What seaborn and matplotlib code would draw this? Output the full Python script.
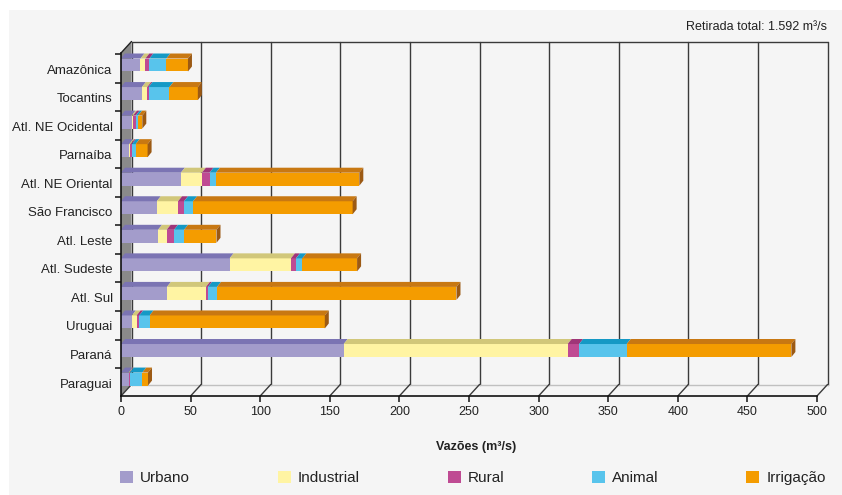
import matplotlib
matplotlib.use("Agg")
import matplotlib.pyplot as plt
from matplotlib.patches import Polygon, Rectangle, Patch
from matplotlib.transforms import ScaledTranslation
import numpy as np
import pandas as pd
import seaborn as sns

# ---- data: withdrawal flow by hydrographic region (m³/s) ----
regioes = ["Amazônica", "Tocantins", "Atl. NE Ocidental", "Parnaíba",
           "Atl. NE Oriental", "São Francisco", "Atl. Leste", "Atl. Sudeste",
           "Atl. Sul", "Uruguai", "Paraná", "Paraguai"]
urbano     = [14.0, 15.0, 7.6, 5.8, 43.0, 25.7, 26.6, 78.0, 33.0, 7.8, 160.0, 5.5]
industrial = [3.5, 3.8, 1.0, 1.0, 15.1, 15.3, 6.2, 44.1, 28.0, 3.4, 160.9, 0.5]
rural      = [2.9, 1.0, 2.0, 1.0, 5.5, 4.3, 5.3, 3.6, 1.5, 1.9, 8.2, 0.3]
animal     = [12.2, 15.0, 1.7, 2.7, 4.6, 6.5, 7.2, 4.6, 6.5, 7.4, 34.2, 9.0]
irrigacao  = [15.5, 20.4, 3.0, 8.6, 103.0, 114.6, 23.3, 39.3, 172.0, 125.9, 118.3, 4.1]

usos = ["Urbano", "Industrial", "Rural", "Animal", "Irrigação"]
x_ticks = [0, 50, 100, 150, 200, 250, 300, 350, 400, 450, 500]
titulo = "Retirada total: 1.592 m³/s"
eixo_x = "Vazões (m³/s)"

# ---- styling ----
cor_frente = ["#a39ccb", "#fff4a3", "#bf4b93", "#58c4ec", "#f49c00"]
cor_topo   = ["#7b74b3", "#d1c77a", "#9f3578", "#1599c5", "#c87812"]
cor_lado   = "#9c5a14"
BG = "#f5f5f5"
TXT = "#222222"

sns.set_theme(style="white")
plt.rcParams["font.family"] = ["Liberation Sans", "DejaVu Sans"]

W, H = 842, 495
fig = plt.figure(figsize=(W / 100, H / 100), dpi=100, facecolor="white")
fig.add_artist(Rectangle((9 / W, 0), 1 - 9 / W, 1 - 10 / H,
                         transform=fig.transFigure, facecolor=BG,
                         edgecolor="none", zorder=0))

# front plane of the pseudo-3D box (pixels)
px_left, px_right = 121, 817
px_top, px_bot = 53, 396
row_px = 28.55          # pixel distance between rows
first_row_px = 65       # pixel centre of the first bar
ax = fig.add_axes([px_left / W, 1 - px_bot / H,
                   (px_right - px_left) / W, (px_bot - px_top) / H])
ax.set_facecolor(BG)

BAR_H = 0.455
df = pd.DataFrame({"Região": regioes, "Urbano": urbano, "Industrial": industrial,
                   "Rural": rural, "Animal": animal, "Irrigação": irrigacao})
acum = df[usos].cumsum(axis=1)

# stacked bars: draw cumulative totals from the longest down
for uso, cor in reversed(list(zip(usos, cor_frente))):
    sns.barplot(x=acum[uso], y=df["Região"], orient="h", color=cor,
                saturation=1, width=BAR_H, linewidth=0, errorbar=None,
                ax=ax, zorder=4)

xmax = 500
y_bot = (px_bot - first_row_px) / row_px
y_top = (px_top - first_row_px) / row_px
ax.set_xlim(0, xmax)
ax.set_ylim(y_bot, y_top)

px_x = (px_right - px_left) / xmax
# bar depth (top face / end cap)
bdx, bdy = 4.0 / px_x, 5.0 / row_px
# box depth
dx, dy = 10.5 / px_x, 11.5 / row_px

# top faces and end caps of the bars
for i in range(len(regioes)):
    t = i - BAR_H / 2
    left = 0.0
    for k, uso in enumerate(usos):
        right = acum.loc[i, uso]
        ax.add_patch(Polygon([(left, t), (right, t), (right + bdx, t - bdy),
                              (left + bdx, t - bdy)], closed=True,
                             facecolor=cor_topo[k], edgecolor="none",
                             zorder=5, clip_on=False))
        left = right
    ax.add_patch(Polygon([(left, t), (left + bdx, t - bdy),
                          (left + bdx, t + BAR_H - bdy), (left, t + BAR_H)],
                         closed=True, facecolor=cor_lado, edgecolor="none",
                         zorder=5, clip_on=False))

# left wall
ax.add_patch(Polygon([(0, y_bot), (0, y_top), (dx, y_top - dy), (dx, y_bot - dy)],
                     closed=True, facecolor="#8a8a8a", edgecolor="none",
                     zorder=2, clip_on=False))
# back wall grid and edges
grid_kw = dict(color="#3a3a3a", lw=1.0, clip_on=False, zorder=1)
for v in x_ticks:
    ax.plot([v + dx, v + dx], [y_bot - dy, y_top - dy], **grid_kw)
    ax.plot([v, v + dx], [y_bot, y_bot - dy], color="#3a3a3a", lw=1.0,
            clip_on=False, zorder=3)
ax.plot([dx, xmax + dx], [y_top - dy, y_top - dy], **grid_kw)
ax.plot([dx, xmax + dx], [y_bot - dy, y_bot - dy], color="#c0c0c0", lw=1.0,
        clip_on=False, zorder=1)
ax.plot([0, dx], [y_top, y_top - dy], color="#222222", lw=1.0,
        clip_on=False, zorder=3)

# spines / ticks
for s in ["top", "right"]:
    ax.spines[s].set_visible(False)
for s in ["left", "bottom"]:
    ax.spines[s].set_color("#111111")
    ax.spines[s].set_linewidth(1.2)
    ax.spines[s].set_zorder(6)

ax.set_xticks(x_ticks)
ax.set_xticklabels([str(v) for v in x_ticks])
ax.set_yticks(range(len(regioes)))
ax.set_yticklabels(regioes)
ax.set_yticks([i - 0.385 for i in range(len(regioes))], minor=True)
ax.tick_params(axis="x", which="major", bottom=True, length=4.5, width=1.1,
               color="#111111", pad=3, labelsize=9, labelcolor=TXT)
ax.tick_params(axis="y", which="major", left=True, length=0, pad=6,
               labelsize=9.5, labelcolor=TXT)
ax.tick_params(axis="y", which="minor", left=True, length=4.5, width=1.1,
               color="#111111")
shift = ScaledTranslation(0, -4 / 100, fig.dpi_scale_trans)
for lab in ax.get_yticklabels():
    lab.set_transform(lab.get_transform() + shift)
ax.set_xlabel("")
ax.set_ylabel("")
ax.grid(False)

fig.text(476 / W, 1 - 447 / H, eixo_x, ha="center", va="center",
         fontsize=9, fontweight="bold", color=TXT)
fig.text(827 / W, 1 - 27 / H, titulo, ha="right", va="center",
         fontsize=9, color=TXT)

handles = [Patch(facecolor=c, edgecolor="none", label=u)
           for u, c in zip(usos, cor_frente)]
fig.legend(handles=handles, loc="center", ncol=5,
           bbox_to_anchor=(473 / W, 1 - 478 / H), frameon=False,
           fontsize=11, handlelength=0.85, handleheight=0.85,
           handletextpad=0.45, columnspacing=5.75, labelcolor=TXT)

fig.savefig("out.png", dpi=100, facecolor=fig.get_facecolor())
